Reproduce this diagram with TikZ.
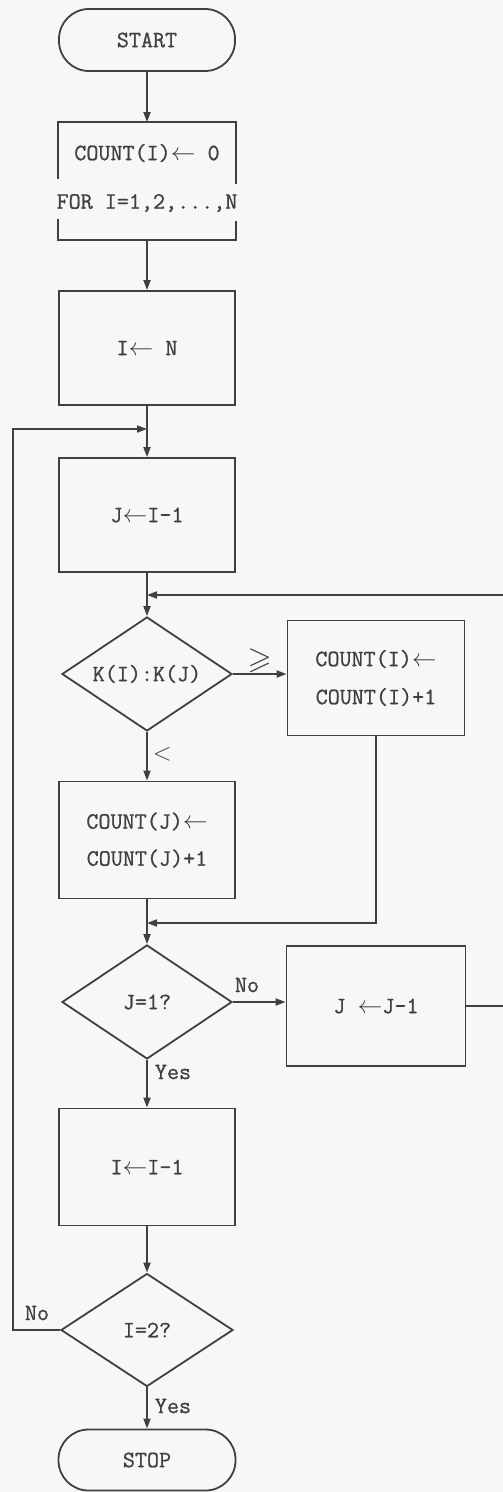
\documentclass[tikz,border=0pt]{standalone}
\usepackage{fontspec}
\usepackage{amssymb}
\usetikzlibrary{arrows.meta,shapes.geometric}
\newfontfamily\tw{Latin Modern Mono}[FakeBold=0.9]
\newcommand{\assignto}{$\leftarrow$}
\definecolor{ink}{HTML}{404040}
\definecolor{paper}{HTML}{F7F7F5}

\begin{document}
\begin{tikzpicture}[x=1bp,y=-1bp,
  every node/.style={font=\tw\fontsize{23.4bp}{26bp}\selectfont, text=ink},
  flow/.style={draw=ink, line width=1.8bp},
  arr/.style={flow, -{Triangle[length=10bp,width=7bp]}},
  terminal/.style={flow, rectangle, rounded corners=30bp, minimum width=176bp, minimum height=62bp, inner sep=0pt},
  proc/.style={flow, rectangle, minimum width=176bp, minimum height=116bp, inner sep=0pt},
  decision/.style={flow, diamond, aspect=1.5, minimum width=170bp, minimum height=114bp, inner sep=0pt},
  tag/.style={inner sep=0pt},
  bigsym/.style={inner sep=0pt, font=\fontsize{31bp}{34bp}\selectfont}
]
% page
\fill[paper] (0,0) rectangle (503,1492);
\useasboundingbox (0,0) rectangle (503,1492);

% main column
\node[terminal] (start) at (147,40) {START};
\node[proc, draw=none] (init) at (147,181) {};
\node[tag] (initA) at (147,153) {COUNT(I)\assignto\ 0};
\node[tag] (initB) at (147,203) {FOR I=1,2,...,N};
\node[proc, minimum height=114bp] (setI) at (147,348) {I\assignto\ N};
\node[proc, minimum height=114bp] (setJ) at (147,515) {J\assignto I-1};
\node[decision] (cmp) at (147,674) {K(I):K(J)};
\node[proc, minimum width=177bp, minimum height=115bp, align=center] (incI) at (376,678) {COUNT(I)\assignto\\[12bp]COUNT(I)+1};
\node[proc, minimum height=117bp, align=center] (incJ) at (147,840) {COUNT(J)\assignto\\[11bp]COUNT(J)+1};
\node[decision] (testJ) at (147,1002) {J=1?};
\node[proc, minimum width=179bp, minimum height=120bp] (decJ) at (376,1006) {J \assignto J-1};
\node[proc, minimum height=117bp] (decI) at (147,1167) {I\assignto I-1};
\node[decision, minimum width=172bp, minimum height=113bp] (testI) at (147,1330) {I=2?};
\node[terminal, minimum width=177bp, minimum height=61bp] (stop) at (147,1460) {STOP};

% initialisation box, open at both sides around the second line
\draw[flow] ([yshift=-57bp]init.north west) -- (init.north west) -- (init.north east) -- ([yshift=-62bp]init.north east);
\draw[flow] ([yshift=21bp]init.south west) -- (init.south west) -- (init.south east) -- ([yshift=19bp]init.south east);

% junction points on the main column
\coordinate (jOuter) at (147,429);
\coordinate (jInner) at (147,595);
\coordinate (jMerge) at (147,923);
\coordinate (rightTurn) at (514,595);
\coordinate (leftTurn) at (13,429);

% straight flow
\draw[arr] (start) -- (init);
\draw[arr] (init) -- (setI);
\draw[arr] (setI) -- (setJ);
\draw[arr] (setJ) -- (cmp);
\draw[arr] (cmp.east) -- node[bigsym, pos=0.5, above=0bp] (geLbl) {$\geqslant$} (cmp.east -| incI.west);
\draw[arr] (cmp) -- node[bigsym, right=5bp, pos=0.45] (ltLbl) {$<$} (incJ);
\draw[arr] (incJ) -- (testJ);
\draw[arr] (testJ.east) -- (testJ.east -| decJ.west);
\draw[arr] (testJ) -- (decI);
\draw[arr] (decI) -- (testI);
\draw[arr] (testI) -- (stop);

% branches returning to the column
\draw[arr] (incI.south) |- (jMerge);
\draw[arr] (decJ.east) -| (rightTurn) -- (jInner);
\draw[arr] (testI.west) -| (leftTurn) -- (jOuter);

% branch labels
\node[tag] (noJ) at (247,985) {No};
\node[tag] (yesJ) at (173,1072) {Yes};
\node[tag] (noI) at (37,1313) {No};
\node[tag] (yesI) at (173,1406) {Yes};
\end{tikzpicture}
\end{document}
